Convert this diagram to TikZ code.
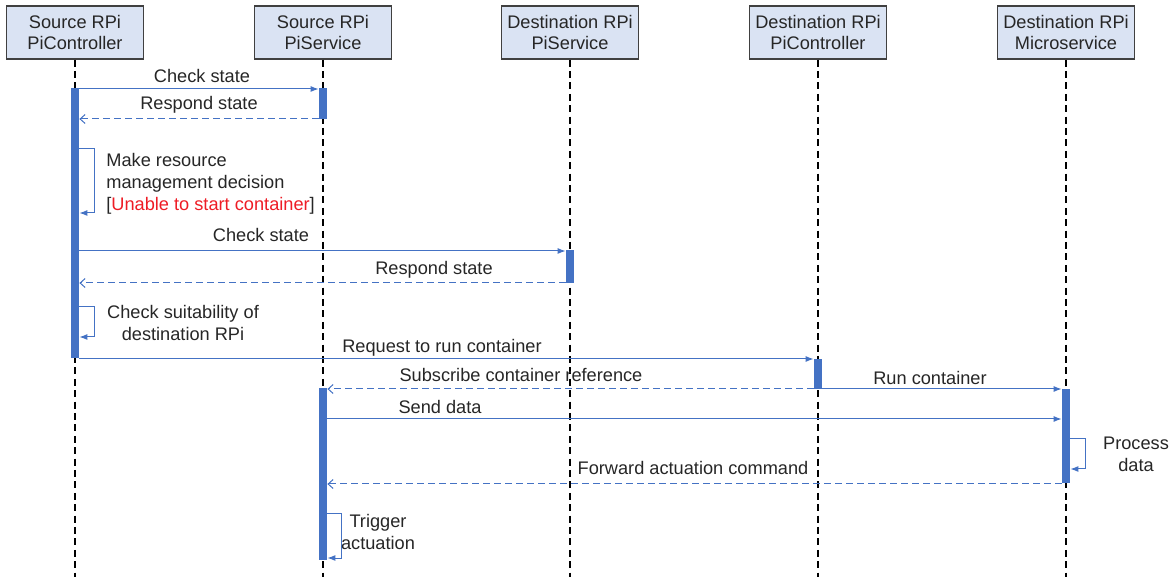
\documentclass[tikz,border=0pt]{standalone}
\usepackage{fontspec}
\setmainfont{Liberation Sans}
\usetikzlibrary{arrows.meta}
\definecolor{lineblue}{HTML}{4472C4}
\definecolor{headfill}{HTML}{DAE3F3}
\definecolor{txtgrey}{HTML}{262626}
\definecolor{alertred}{HTML}{EE1C25}

\begin{document}
\begin{tikzpicture}[x=0.5pt, y=-0.5pt,
    every node/.style={font=\fontsize{9.1}{10.5}\selectfont, text=txtgrey},
    head/.style={rectangle, draw=black!75, line width=0.6pt, fill=headfill, minimum width=68.5pt, minimum height=26.5pt, align=center, inner sep=0pt},
    lifeline/.style={black, line width=0.75pt, dash pattern=on 3.5pt off 2.2pt},
    actbar/.style={rectangle, fill=lineblue, minimum width=4pt, inner sep=0pt},
    msg/.style={-{Latex[length=4pt,width=3pt]}, lineblue, line width=0.5pt},
    reply/.style={-{Straight Barb[length=2.5pt,width=4.5pt]}, lineblue, line width=0.5pt, dash pattern=on 3.5pt off 2pt},
    lbl/.style={anchor=base, inner sep=0pt, align=center, font=\fontsize{9.1}{11}\selectfont}
]
\useasboundingbox (0,0) rectangle (1174,577);

% Lifeline heads
\node[head] (h1) at (75, 32.5) {Source RPi\\PiController};
\node[head] (h2) at (323, 32.5) {Source RPi\\PiService};
\node[head] (h3) at (570, 32.5) {Destination RPi\\PiService};
\node[head] (h4) at (818, 32.5) {Destination RPi\\PiController};
\node[head] (h5) at (1066, 32.5) {Destination RPi\\Microservice};

% Lifelines
\draw[lifeline] (h1.south) -- (h1 |- 0,577);
\draw[lifeline] (h2.south) -- (h2 |- 0,577);
\draw[lifeline] (h3.south) -- (h3 |- 0,577);
\draw[lifeline] (h4.south) -- (h4 |- 0,577);
\draw[lifeline] (h5.south) -- (h5 |- 0,577);

% Activation bars
\node[actbar, minimum height=135pt] (a1) at (75, 223) {};
\node[actbar, minimum height=15.5pt] (a2) at (323, 103.5) {};
\node[actbar, minimum height=16.5pt] (a3) at (570, 266.5) {};
\node[actbar, minimum height=15pt] (a4) at (818, 374) {};
\node[actbar, minimum height=47pt] (a5) at (1066, 436) {};
\node[actbar, minimum height=86pt] (a6) at (323, 474) {};

% Messages
\draw[msg] (a1.east |- 0,89) -- (a2.west |- 0,89);
\node[lbl] (m1) at (202, 83) {Check state};
\draw[reply] (a2.west |- 0,119) -- (a1.east |- 0,119);
\node[lbl] (m2) at (199, 110) {Respond state};

\draw[msg] (a1.east |- 0,149) -- ++(15,0) |- (a1.east |- 0,213);
\node[lbl, align=left, anchor=base west] (m3) at (106, 211) {Make resource\\management decision\\{[}\textcolor{alertred}{Unable to start container}{]}};

\draw[msg] (a1.east |- 0,251) -- (a3.west |- 0,251);
\node[lbl] (m4) at (261, 242) {Check state};
\draw[reply] (a3.west |- 0,283) -- (a1.east |- 0,283);
\node[lbl] (m5) at (434, 275) {Respond state};

\draw[msg] (a1.east |- 0,307) -- ++(15,0) |- (a1.east |- 0,337);
\node[lbl] (m6) at (183, 341) {Check suitability of\\destination RPi};

\draw[msg] (a1.east |- 0,359) -- (a4.west |- 0,359);
\node[lbl] (m7) at (442, 353) {Request to run container};
\draw[reply] (a4.west |- 0,389) -- (a6.east |- 0,389);
\node[lbl] (m8) at (521, 382) {Subscribe container reference};
\draw[msg] (a4.east |- 0,389) -- (a5.west |- 0,389);
\node[lbl] (m9) at (930, 385) {Run container};

\draw[msg] (a6.east |- 0,419) -- (a5.west |- 0,419);
\node[lbl] (m10) at (440, 414) {Send data};

\draw[msg] (a5.east |- 0,439) -- ++(15,0) |- (a5.east |- 0,469);
\node[lbl] (m11) at (1136, 472) {Process\\data};

\draw[reply] (a5.west |- 0,484) -- (a6.east |- 0,484);
\node[lbl] (m12) at (693, 474) {Forward actuation command};

\draw[msg] (a6.east |- 0,514) -- ++(14,0) |- (a6.east |- 0,558);
\node[lbl] (m13) at (378, 549) {Trigger\\actuation};

\end{tikzpicture}
\end{document}
